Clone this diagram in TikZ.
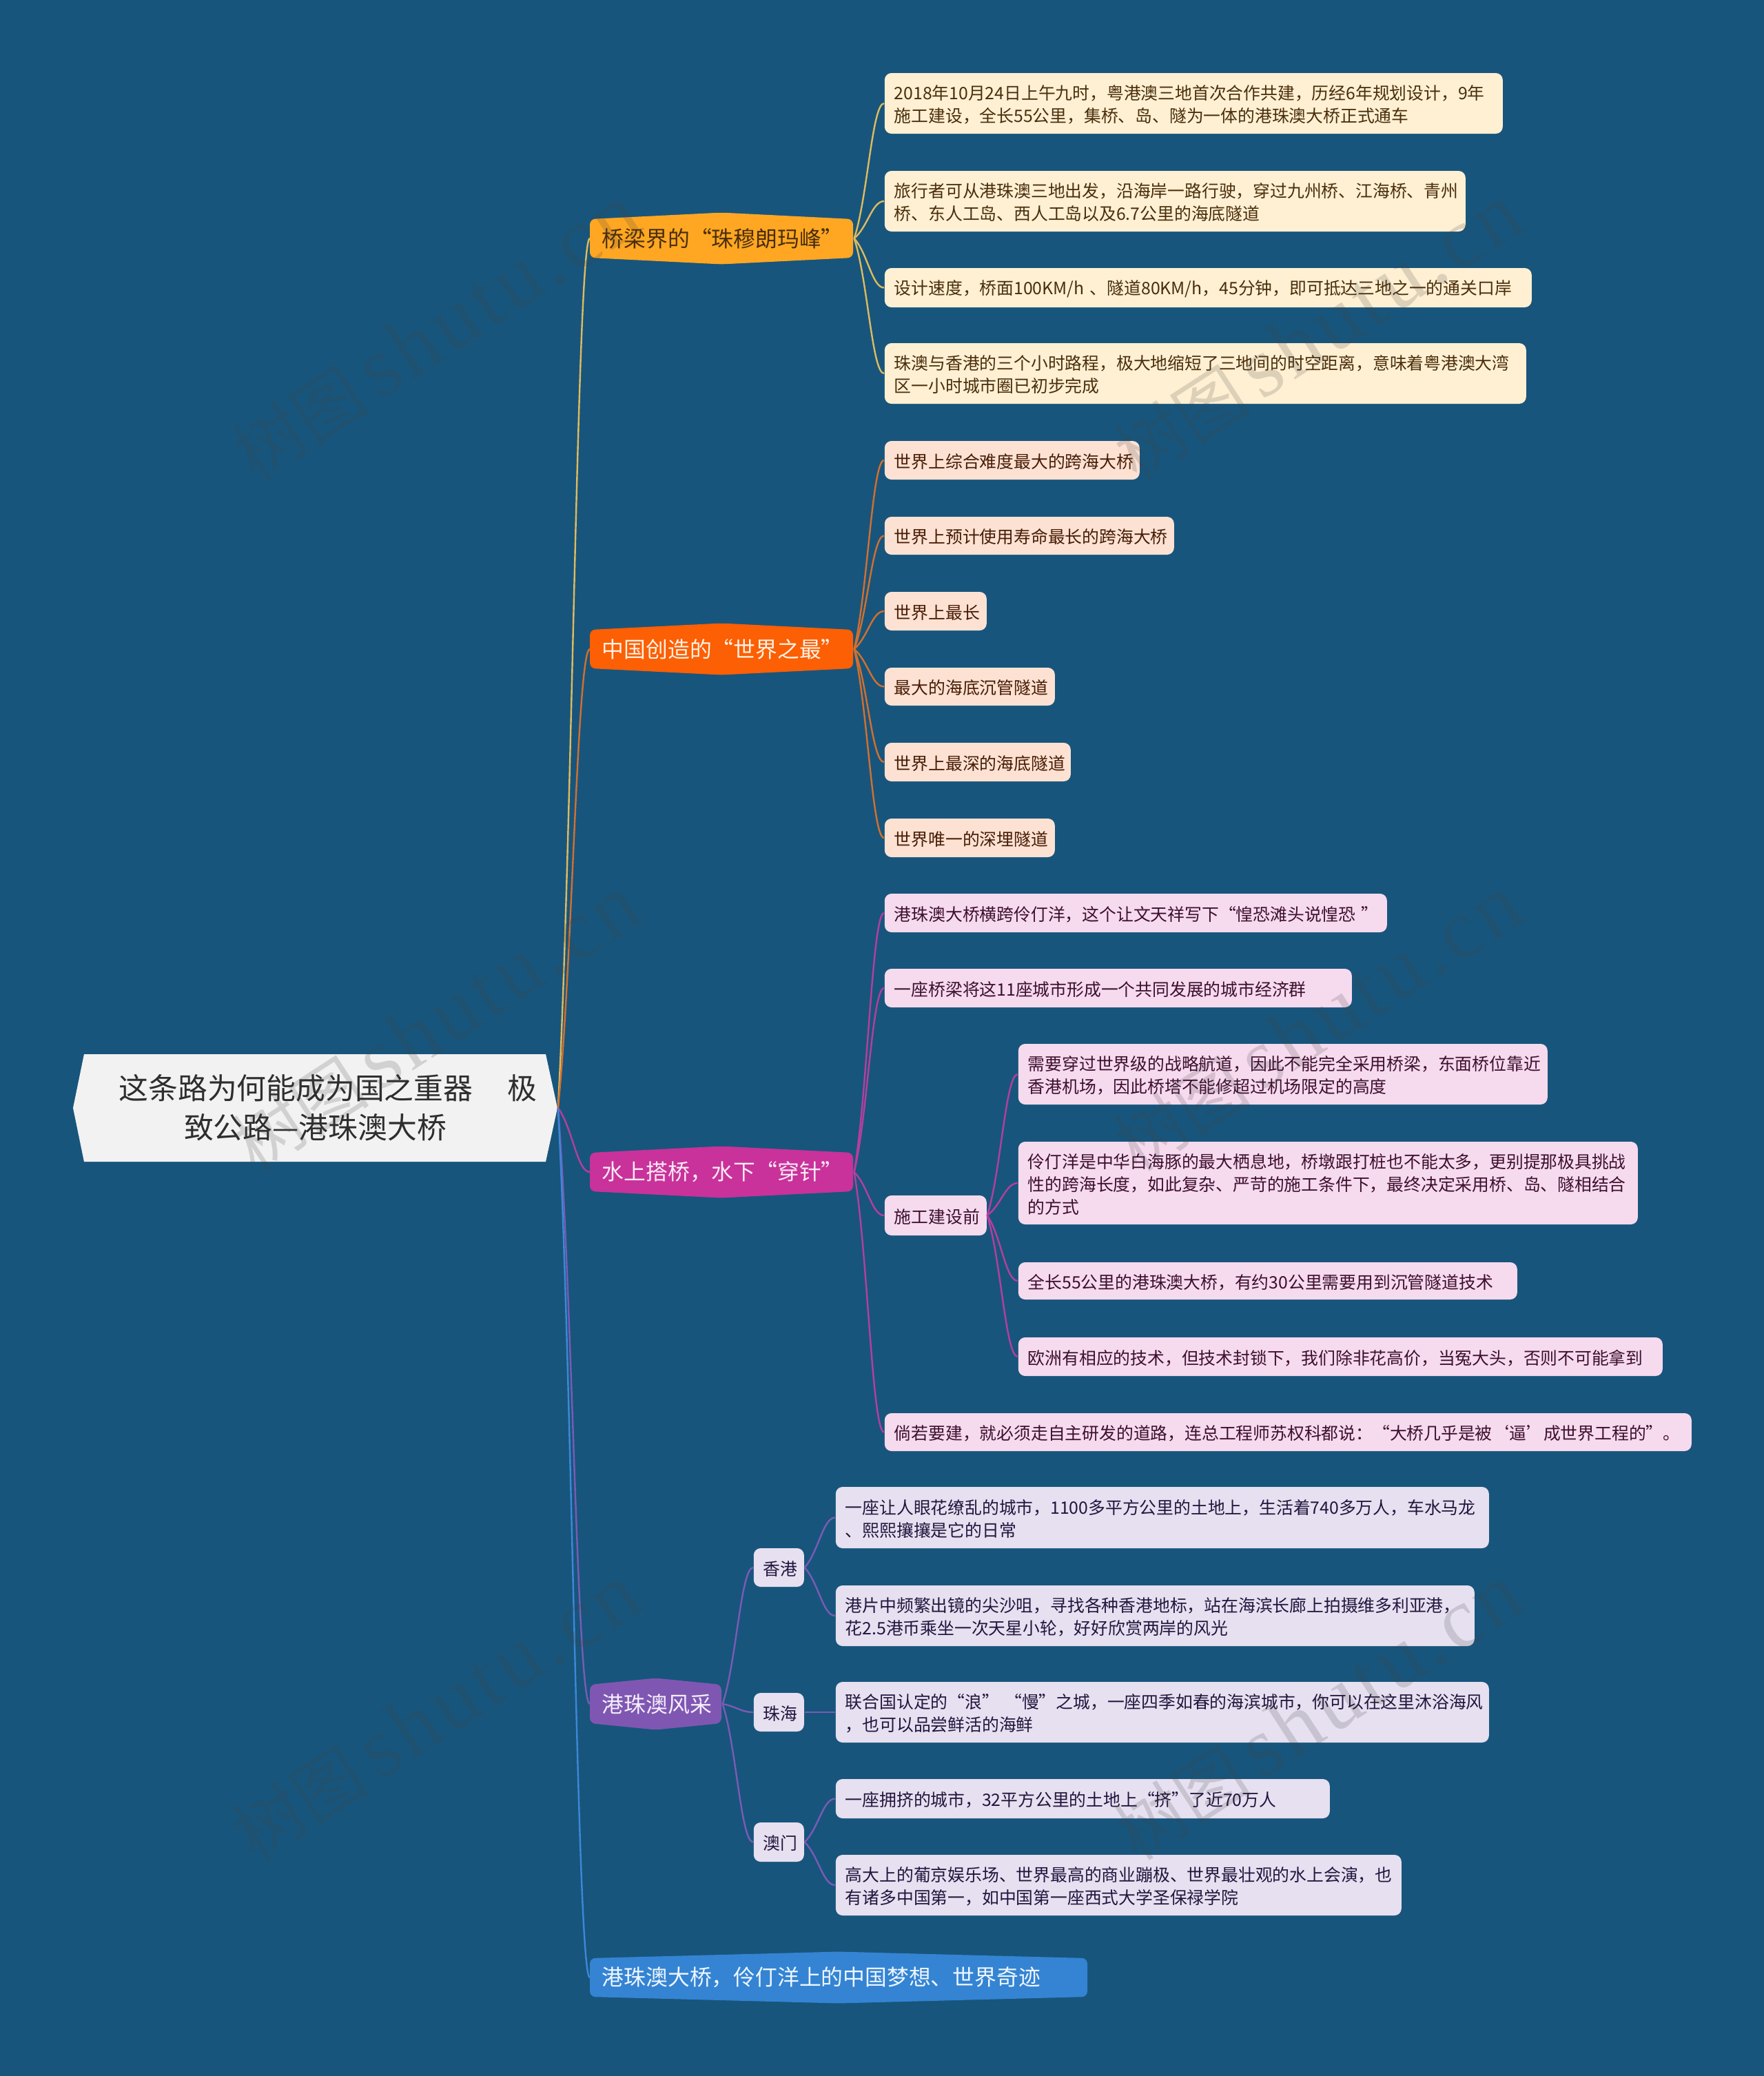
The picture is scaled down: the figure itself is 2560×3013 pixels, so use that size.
\documentclass[tikz,border=0pt]{standalone}
\usepackage{fontspec}
\setmainfont{Noto Sans CJK SC}
\newfontfamily\wmlatin[LetterSpace=5]{Liberation Serif}
\usetikzlibrary{calc}
\definecolor{bgc}{HTML}{18557C}
\definecolor{rootc}{HTML}{F2F2F2}
\definecolor{roott}{HTML}{2E2E2E}
\definecolor{bAf}{HTML}{FFA722}\definecolor{bAt}{HTML}{4A2E0C}\definecolor{bAl}{HTML}{DDBB5E}
\definecolor{bBf}{HTML}{FC5F04}\definecolor{bBt}{HTML}{FFF2E4}\definecolor{bBl}{HTML}{D2702E}
\definecolor{bCf}{HTML}{C8329A}\definecolor{bCt}{HTML}{FCEAF6}\definecolor{bCl}{HTML}{B43F9E}
\definecolor{bDf}{HTML}{7F57B2}\definecolor{bDt}{HTML}{F4EEFA}\definecolor{bDl}{HTML}{7A5BB5}
\definecolor{bEf}{HTML}{3484D3}\definecolor{bEt}{HTML}{EEF6FE}\definecolor{bEl}{HTML}{3C88D8}
\definecolor{lAf}{HTML}{FFF0D3}\definecolor{lAt}{HTML}{4A2E0C}
\definecolor{lBf}{HTML}{FDE2D3}\definecolor{lBt}{HTML}{471C06}
\definecolor{lCf}{HTML}{F6DAEE}\definecolor{lCt}{HTML}{3D0F2E}
\definecolor{lDf}{HTML}{E6E0F0}\definecolor{lDt}{HTML}{22163E}
\definecolor{wmc}{HTML}{404040}
\tikzset{
  leafbase/.style={rectangle,rounded corners=2.5pt,inner xsep=3.5pt,inner ysep=0pt,align=left,
    font=\fontsize{6.2}{8.25}\selectfont},
  leafA/.style={leafbase,fill=lAf,text=lAt},
  leafB/.style={leafbase,fill=lBf,text=lBt},
  leafC/.style={leafbase,fill=lCf,text=lCt},
  leafD/.style={leafbase,fill=lDf,text=lDt},
  branchnode/.style={rectangle,inner xsep=4.25pt,inner ysep=0pt,align=left,font=\fontsize{7.95}{10}\selectfont},
  rootnode/.style={rectangle,inner sep=0pt,align=center,text=roott,font=\fontsize{10.7}{14.25}\selectfont},
  link/.style={line width=.6pt},
  wm/.style={rotate=33,anchor=base west,text=wmc,text opacity=.18,inner sep=0pt,font=\fontsize{25}{25}\selectfont}
}
\newcommand\leaf[7]{\node[#2,anchor=west,minimum width={(#4-#3)*.25pt},text width={(#4-#3-28)*.25pt},minimum height={(#6-#5)*.25pt}] (#1) at (#3,{(#5+#6)/2}) {\rule{0pt}{6.2pt}#7};}
% name, fill, text colour, x0, x1, cy, text
\newcommand\hexbr[7]{%
  \fill[#2,rounded corners=2pt] (#4,#6-28) -- ({(#4+#5)/2},#6-37.5) -- (#5,#6-28) -- (#5,#6+28) -- ({(#4+#5)/2},#6+37.5) -- (#4,#6+28) -- cycle;
  \node[branchnode,text=#3,anchor=west,text width={(#5-#4-34)*.25pt},minimum height={56*.25pt}] (#1) at (#4,#6) {#7};}
\newcommand\conn[3]{\draw[link,#1] let \p1=(#2.east),\p2=(#3.west) in (\p1) .. controls ({\x1+.45*(\x2-\x1)},{\y1+.3*(\y2-\y1)}) and ({\x1+.6*(\x2-\x1)},\y2) .. (\p2);}
\begin{document}
\begin{tikzpicture}[x=.25pt,y=-.25pt]
\useasboundingbox (0,0) rectangle (2560,3013);
\fill[bgc] (0,0) rectangle (2560,3013);
% root
\fill[rootc] (106,1608) -- (122,1530) -- (792,1530) -- (809,1608) -- (792,1686) -- (122,1686) -- cycle;
\node[rootnode,minimum width={703*.25pt},minimum height={156*.25pt}] (root) at (457.5,1608) {\hspace*{9.25pt}这条路为何能成为国之重器\hspace{12.5pt}极\\致公路—港珠澳大桥};
% branches
\hexbr{bA}{bAf}{bAt}{856}{1238}{346}{桥梁界的“珠穆朗玛峰”}
\hexbr{bB}{bBf}{bBt}{856}{1238}{942}{中国创造的“世界之最”}
\hexbr{bC}{bCf}{bCt}{856}{1238}{1701}{水上搭桥，水下“穿针”}
\hexbr{bD}{bDf}{bDt}{856}{1047}{2473}{港珠澳风采}
\hexbr{bE}{bEf}{bEt}{856}{1578}{2870}{港珠澳大桥，伶仃洋上的中国梦想、世界奇迹}
% leaves A
\leaf{a1}{leafA}{1283}{2180}{106}{194}{2018年10月24日上午九时，粤港澳三地首次合作共建，历经6年规划设计，9年\\施工建设，全长55公里，集桥、岛、隧为一体的港珠澳大桥正式通车}
\leaf{a2}{leafA}{1283}{2126}{248}{336}{旅行者可从港珠澳三地出发，沿海岸一路行驶，穿过九州桥、江海桥、青州\\桥、东人工岛、西人工岛以及6.7公里的海底隧道}
\leaf{a3}{leafA}{1283}{2222}{389}{446}{设计速度，桥面100KM/h~、隧道80KM/h，45分钟，即可抵达三地之一的通关口岸}
\leaf{a4}{leafA}{1283}{2214}{498}{586}{珠澳与香港的三个小时路程，极大地缩短了三地间的时空距离，意味着粤港澳大湾\\区一小时城市圈已初步完成}
% leaves B
\leaf{c1}{leafB}{1283}{1653}{640}{696}{世界上综合难度最大的跨海大桥}
\leaf{c2}{leafB}{1283}{1703}{750}{805}{世界上预计使用寿命最长的跨海大桥}
\leaf{c3}{leafB}{1283}{1431}{859}{915}{世界上最长}
\leaf{c4}{leafB}{1283}{1530}{969}{1024}{最大的海底沉管隧道}
\leaf{c5}{leafB}{1283}{1553}{1078}{1134}{世界上最深的海底隧道}
\leaf{c6}{leafB}{1283}{1530}{1188}{1244}{世界唯一的深埋隧道}
% leaves C
\leaf{d1}{leafC}{1283}{2012}{1297}{1353}{港珠澳大桥横跨伶仃洋，这个让文天祥写下“惶恐滩头说惶恐~”}
\leaf{d2}{leafC}{1283}{1961}{1406}{1462}{一座桥梁将这11座城市形成一个共同发展的城市经济群}
\leaf{d3}{leafC}{1283}{1431}{1735}{1793}{施工建设前}
\leaf{e1}{leafC}{1477}{2245}{1515}{1603}{需要穿过世界级的战略航道，因此不能完全采用桥梁，东面桥位靠近\\香港机场，因此桥塔不能修超过机场限定的高度}
\leaf{e2}{leafC}{1477}{2376}{1657}{1777}{伶仃洋是中华白海豚的最大栖息地，桥墩跟打桩也不能太多，更别提那极具挑战\\性的跨海长度，如此复杂、严苛的施工条件下，最终决定采用桥、岛、隧相结合\\的方式}
\leaf{e3}{leafC}{1477}{2201}{1832}{1886}{全长55公里的港珠澳大桥，有约30公里需要用到沉管隧道技术}
\leaf{e4}{leafC}{1477}{2412}{1941}{1997}{欧洲有相应的技术，但技术封锁下，我们除非花高价，当冤大头，否则不可能拿到}
\leaf{d4}{leafC}{1283}{2454}{2051}{2106}{倘若要建，就必须走自主研发的道路，连总工程师苏权科都说：“大桥几乎是被‘逼’成世界工程的”。}
% leaves D
\leaf{f1}{leafD}{1093}{1166}{2247}{2303}{香港}
\leaf{f2}{leafD}{1093}{1166}{2457}{2513}{珠海}
\leaf{f3}{leafD}{1093}{1166}{2645}{2702}{澳门}
\leaf{g1}{leafD}{1212}{2160}{2158}{2247}{一座让人眼花缭乱的城市，1100多平方公里的土地上，生活着740多万人，车水马龙\\、熙熙攘攘是它的日常}
\leaf{g2}{leafD}{1212}{2139}{2301}{2389}{港片中频繁出镜的尖沙咀，寻找各种香港地标，站在海滨长廊上拍摄维多利亚港，\\花2.5港币乘坐一次天星小轮，好好欣赏两岸的风光}
\leaf{g3}{leafD}{1212}{2160}{2441}{2529}{联合国认定的“浪”~“慢”之城，一座四季如春的海滨城市，你可以在这里沐浴海风\\，也可以品尝鲜活的海鲜}
\leaf{g4}{leafD}{1212}{1929}{2582}{2639}{一座拥挤的城市，32平方公里的土地上“挤”了近70万人}
\leaf{g5}{leafD}{1212}{2033}{2692}{2780}{高大上的葡京娱乐场、世界最高的商业蹦极、世界最壮观的水上会演，也\\有诸多中国第一，如中国第一座西式大学圣保禄学院}
% connectors
\conn{bAl}{root}{bA}
\conn{bBl}{root}{bB}
\conn{bCl}{root}{bC}
\conn{bDl}{root}{bD}
\conn{bEl}{root}{bE}
\foreach \t in {a1,a2,a3,a4}{\conn{bAl}{bA}{\t}}
\foreach \t in {c1,c2,c3,c4,c5,c6}{\conn{bBl}{bB}{\t}}
\foreach \t in {d1,d2,d3,d4}{\conn{bCl}{bC}{\t}}
\foreach \t in {e1,e2,e3,e4}{\conn{bCl}{d3}{\t}}
\foreach \t in {f1,f2,f3}{\conn{bDl}{bD}{\t}}
\foreach \t in {g1,g2}{\conn{bDl}{f1}{\t}}
\conn{bDl}{f2}{g3}
\foreach \t in {g4,g5}{\conn{bDl}{f3}{\t}}
% watermarks
\foreach \px/\py [count=\i] in {370/700,1650/700,370/1703,1650/1703,370/2703,1650/2703}{
  \node[wm] (w\i) at (\px,\py) {树图\hspace{4pt}{\wmlatin\fontsize{31}{31}\selectfont shutu.cn}};
}
\end{tikzpicture}
\end{document}
